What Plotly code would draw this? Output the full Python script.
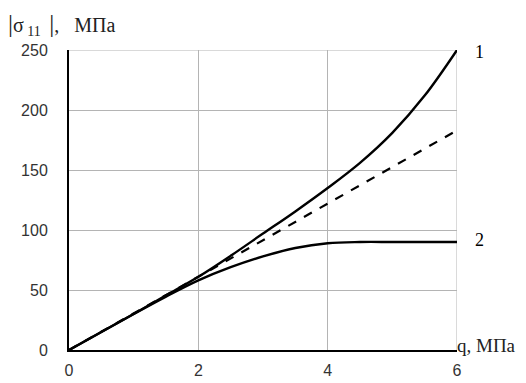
import plotly.graph_objects as go

q = [0, 0.5, 1, 1.5, 2, 2.5, 3, 3.5, 4, 4.5, 5, 5.5, 6]
curve1 = [0, 15, 30, 45.5, 61, 78.5, 97, 115.5, 135, 156, 181, 212, 250]
curve2 = [0, 15, 30, 44.5, 58, 69, 78, 85, 89, 90, 90, 90, 90]
dashed_q = [0, 6]
dashed = [0, 183]

x_ticks = [0, 2, 4, 6]
y_ticks = [0, 50, 100, 150, 200, 250]
curve_labels = ["1", "2"]

fig = go.Figure()
fig.add_trace(go.Scatter(x=dashed_q, y=dashed, mode="lines",
                         line=dict(color="black", width=2.2, dash="dash"), showlegend=False))
fig.add_trace(go.Scatter(x=q, y=curve1, mode="lines", line_shape="spline",
                         line=dict(color="black", width=2.4), showlegend=False))
fig.add_trace(go.Scatter(x=q, y=curve2, mode="lines", line_shape="spline",
                         line=dict(color="black", width=2.4), showlegend=False))

serif = "Liberation Serif, Times New Roman, serif"
fig.add_annotation(x=6, y=curve1[-1], text=curve_labels[0], showarrow=False,
                   xanchor="left", xshift=16, yanchor="middle", yshift=-2,
                   font=dict(family=serif, size=18, color="black"))
fig.add_annotation(x=6, y=curve2[-1], text=curve_labels[1], showarrow=False,
                   xanchor="left", xshift=16, yanchor="middle", yshift=2,
                   font=dict(family=serif, size=18, color="black"))
title_text = ('<span style="font-size:25px">|</span>σ<sub> 11 </sub> '
              '<span style="font-size:25px">|</span>,&nbsp;&nbsp; МПа')
fig.add_annotation(x=0, y=1, xref="paper", yref="paper", text=title_text,
                   showarrow=False, xanchor="left", yanchor="top", xshift=-63, yshift=42,
                   font=dict(family=serif, size=20, color="#222"))
fig.add_annotation(x=1, y=0, xref="paper", yref="paper", text="q, МПа",
                   showarrow=False, xanchor="left", yanchor="middle", xshift=-2, yshift=5,
                   font=dict(family=serif, size=19, color="#222"))

tickfont = dict(family="Liberation Sans, Arial, sans-serif", size=16, color="#333")
fig.update_xaxes(range=[0, 6], tickvals=x_ticks, showgrid=True, gridcolor="#b4b4b4", gridwidth=1,
                 showline=True, linecolor="black", linewidth=2, zeroline=False, automargin=False,
                 ticks="", ticklabelstandoff=5, tickfont=tickfont)
fig.update_yaxes(range=[0, 250], tickvals=y_ticks, showgrid=True, gridcolor="#b4b4b4", gridwidth=1,
                 showline=True, linecolor="black", linewidth=2, zeroline=False, automargin=False,
                 ticks="", ticklabelstandoff=16, tickfont=tickfont)

fig.add_shape(type="line", x0=6, x1=6, y0=0, y1=250, line=dict(color="#b4b4b4", width=1), layer="below")
fig.add_shape(type="line", x0=0, x1=6, y0=250, y1=250, line=dict(color="#b4b4b4", width=1), layer="below")

# page body has an 8px margin, so the figure is sized/offset to land where the reference plot sits
fig.update_layout(width=518, height=375, margin=dict(l=61, r=69, t=42, b=33),
                  plot_bgcolor="white", paper_bgcolor="white")
fig.write_html("out.html")
